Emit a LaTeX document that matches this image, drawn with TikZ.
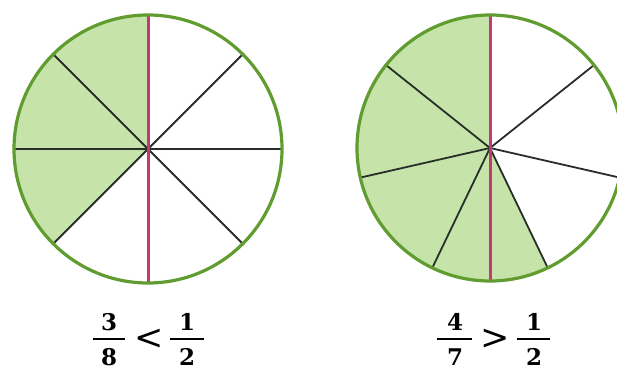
\documentclass[tikz,border=0pt]{standalone}
\usepackage{fontspec}
\newfontfamily\digitfont{DejaVu Serif}
\definecolor{shadegreen}{RGB}{198,227,170}
\definecolor{rimgreen}{RGB}{96,156,48}
\definecolor{pinkred}{RGB}{196,56,116}
\definecolor{spokegray}{RGB}{40,46,40}
\tikzset{
  sector/.style={fill=shadegreen},
  spoke/.style={draw=spokegray,line width=1.8pt},
  pinkline/.style={draw=pinkred,line width=3pt},
  rim/.style={draw=rimgreen,line width=3.2pt},
  numtext/.style={inner sep=0pt,font=\digitfont\bfseries\fontsize{23}{26}\selectfont},
  fracbar/.style={draw=black,line width=2pt},
  reltext/.style={inner sep=0pt,font=\digitfont\fontsize{35}{38}\selectfont}
}
\begin{document}
\begin{tikzpicture}[x=1pt,y=1pt]
\useasboundingbox (0,0) rectangle (617,370);
\clip (0,0) rectangle (617,370);
% left circle: 3/8
\coordinate (L) at (148,221);
\fill[sector] (L) -- ++(90:134) arc[start angle=90,end angle=225,radius=134] -- cycle;
\foreach \a in {0,45,135,180,225,315}
  \draw[spoke] (L) -- ++(\a:134);
\coordinate (Ltop) at (148,355);
\coordinate (Lbot) at (148,87);
\draw[pinkline] (Ltop) -- (Lbot);
\draw[rim] (L) circle[radius=134];
% right circle: 4/7
\coordinate (R) at (490,222);
\fill[sector] (R) -- ++(90:133) arc[start angle=90,end angle={90+4*360/7},radius=133] -- cycle;
\foreach \k in {1,...,6}
  \draw[spoke] (R) -- ++({90+\k*360/7}:133);
\coordinate (Rtop) at (490,355);
\coordinate (Rbot) at (490,89);
\draw[pinkline] (Rtop) -- (Rbot);
\draw[rim] (R) circle[radius=133];
% left label 3/8 < 1/2
\node[numtext] (n1) at (109,48) {3};
\node[numtext] (d1) at (109,13) {8};
\coordinate (b1a) at (93,31);
\coordinate (b1b) at (125,31);
\draw[fracbar] (b1a) -- (b1b);
\node[reltext] (r1) at (149,31) {<};
\node[numtext] (n2) at (187,48) {1};
\node[numtext] (d2) at (187,13) {2};
\coordinate (b2a) at (170,31);
\coordinate (b2b) at (204,31);
\draw[fracbar] (b2a) -- (b2b);
% right label 4/7 > 1/2
\node[numtext] (n3) at (455,48) {4};
\node[numtext] (d3) at (455,13) {7};
\coordinate (b3a) at (437,31);
\coordinate (b3b) at (472,31);
\draw[fracbar] (b3a) -- (b3b);
\node[reltext] (r2) at (495,31) {>};
\node[numtext] (n4) at (534,48) {1};
\node[numtext] (d4) at (534,13) {2};
\coordinate (b4a) at (517,31);
\coordinate (b4b) at (550,31);
\draw[fracbar] (b4a) -- (b4b);
\end{tikzpicture}
\end{document}
